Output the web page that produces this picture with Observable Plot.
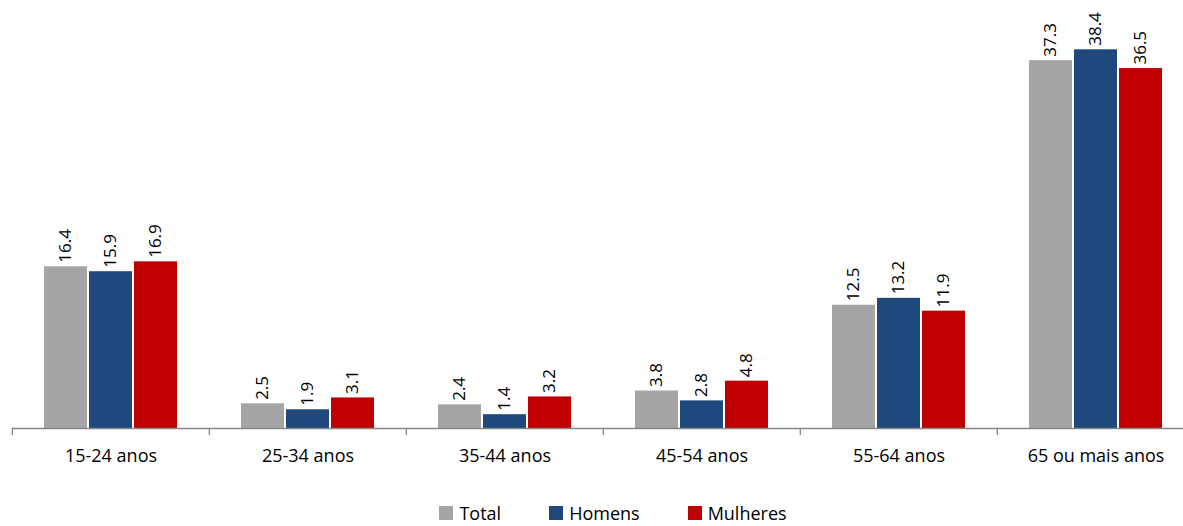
<!DOCTYPE html>
<html><head><meta charset="utf-8">
<script src="https://cdn.jsdelivr.net/npm/d3@7"></script>
<script src="https://cdn.jsdelivr.net/npm/@observablehq/plot@0.6"></script>
<style>
html,body{margin:0;padding:0;background:#fff;overflow:hidden;width:1183px;height:526px;font-family:"Open Sans",sans-serif;}
#chart{position:absolute;left:0;top:0;width:1200px;}
#chart svg{max-width:none !important;}
#legend{position:absolute;left:0;top:503px;width:1183px;height:20px;display:flex;justify-content:center;align-items:center;padding-left:43px;box-sizing:border-box;font-size:18px;line-height:20px;color:#000;}
.item{display:flex;align-items:center;margin:0 24px;}
.sw{width:14px;height:14px;margin-right:6px;}
</style>
</head><body>
<div id="chart"></div>
<div id="legend"></div>
<script>
const categories = ["15-24 anos","25-34 anos","35-44 anos","45-54 anos","55-64 anos","65 ou mais anos"];
const series = ["Total","Homens","Mulheres"];
const total = [16.4, 2.5, 2.4, 3.8, 12.5, 37.3];
const homens = [15.9, 1.9, 1.4, 2.8, 13.2, 38.4];
const mulheres = [16.9, 3.1, 3.2, 4.8, 11.9, 36.5];
const colors = ["#A5A5A5","#1F497D","#C00000"];

const values = [total, homens, mulheres];
const data = categories.flatMap((c, i) => series.map((s, j) => ({cat: c, s, v: values[j][i]})));

const W = 1200, mL = 11, mR = 5;
const band = (W - mL - mR) / categories.length;

const chart = Plot.plot({
  width: W, height: 470,
  marginTop: 0, marginBottom: 42, marginLeft: mL, marginRight: mR,
  style: {fontFamily: "'Open Sans', sans-serif", fontSize: "18px", color: "#000", background: "#fff", overflow: "visible", maxWidth: "none"},
  fx: {domain: categories, padding: 0, label: null},
  x: {domain: series, paddingInner: 0.04, paddingOuter: 0.7, axis: null},
  y: {domain: [0, 43.4], axis: null},
  color: {domain: series, range: colors},
  marks: [
    Plot.barY(data, {fx: "cat", x: "s", y: "v", fill: "s"}),
    Plot.ruleY([0], {stroke: "#868686", strokeWidth: 1.3}),
    Plot.text(data, {fx: "cat", x: "s", y: "v", text: d => d.v.toFixed(1), rotate: -90, textAnchor: "start", lineAnchor: "middle", dy: -4, fontSize: 17, fill: "#000"}),
    Plot.axisFx({anchor: "bottom", tickSize: 7, tickFormat: () => "", dx: -band / 2, stroke: "#868686", strokeWidth: 1.3, label: null}),
    Plot.axisFx({anchor: "bottom", tickSize: 0, tickPadding: 21, fontSize: 18, label: null})
  ]
});
document.getElementById("chart").appendChild(chart);

const legend = document.getElementById("legend");
series.forEach((s, i) => {
  const it = document.createElement("div");
  it.className = "item";
  const sw = document.createElement("span");
  sw.className = "sw";
  sw.style.background = colors[i];
  const t = document.createElement("span");
  t.textContent = s;
  it.appendChild(sw); it.appendChild(t);
  legend.appendChild(it);
});
</script>
</body></html>
